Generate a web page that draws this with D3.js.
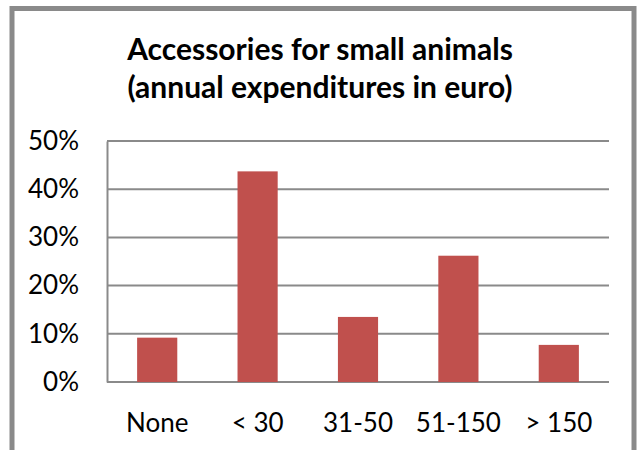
<!DOCTYPE html>
<html>
<head>
<meta charset="utf-8">
<script src="https://cdn.jsdelivr.net/npm/d3@7"></script>
<style>
  body { margin: 0; background: #fff; }
  svg { display: block; }
</style>
</head>
<body>
<div id="chart"></div>
<script>
var categories = ["None", "< 30", "31-50", "51-150", "> 150"];
var shares = [9.2, 43.7, 13.5, 26.2, 7.7];
var yTicks = [0, 10, 20, 30, 40, 50];
var titleLines = ["Accessories for small animals", "(annual expenditures in euro)"];

var width = 638, height = 450;
var margin = {left: 107, right: 29, top: 141, bottom: 68};

var svg = d3.select("#chart").append("svg")
    .attr("width", width)
    .attr("height", height);

// outer frame (bottom edge falls outside the picture)
svg.append("rect")
    .attr("x", 12)
    .attr("y", 8.5)
    .attr("width", 622)
    .attr("height", 460)
    .attr("fill", "#fff")
    .attr("stroke", "#8a8a8a")
    .attr("stroke-width", 5);

var x = d3.scaleBand()
    .domain(categories)
    .range([margin.left, width - margin.right])
    .paddingInner(0.6)
    .paddingOuter(0.3);

var y = d3.scaleLinear()
    .domain([0, 50])
    .range([height - margin.bottom, margin.top]);

// title
svg.append("g")
    .selectAll("text")
    .data(titleLines)
    .enter().append("text")
    .attr("x", 320)
    .attr("y", function(d, i) { return 60 + i * 38; })
    .attr("text-anchor", "middle")
    .style("font-family", "Lato, 'Open Sans', sans-serif")
    .style("font-weight", "bold")
    .style("font-size", "30px")
    .attr("fill", "#000")
    .text(function(d) { return d; });

// gridlines
svg.append("g")
    .selectAll("line")
    .data(yTicks)
    .enter().append("line")
    .attr("x1", margin.left)
    .attr("x2", width - margin.right)
    .attr("y1", function(d) { return y(d); })
    .attr("y2", function(d) { return y(d); })
    .attr("stroke", "#8a8a8a")
    .attr("stroke-width", 2);

// y axis
var yAxis = svg.append("g")
    .attr("transform", "translate(" + margin.left + ",0)")
    .call(d3.axisLeft(y)
        .tickValues(yTicks)
        .tickSize(0)
        .tickPadding(28)
        .tickFormat(function(d) { return d + "%"; }));
yAxis.select(".domain")
    .attr("stroke", "#8a8a8a")
    .attr("stroke-width", 2);
yAxis.selectAll("text")
    .style("font-family", "Lato, 'Open Sans', sans-serif")
    .style("font-size", "26px")
    .attr("fill", "#000");

// x axis
var xAxis = svg.append("g")
    .attr("transform", "translate(0," + (height - margin.bottom) + ")")
    .call(d3.axisBottom(x).tickSize(0).tickPadding(32));
xAxis.select(".domain").remove();
xAxis.selectAll("text")
    .style("font-family", "Lato, 'Open Sans', sans-serif")
    .style("font-size", "26px")
    .attr("fill", "#000");

// bars
svg.append("g")
    .selectAll("rect")
    .data(shares)
    .enter().append("rect")
    .attr("x", function(d, i) { return x(categories[i]); })
    .attr("y", function(d) { return y(d); })
    .attr("width", x.bandwidth())
    .attr("height", function(d) { return y(0) - y(d); })
    .attr("fill", "#c0504d");
</script>
</body>
</html>
